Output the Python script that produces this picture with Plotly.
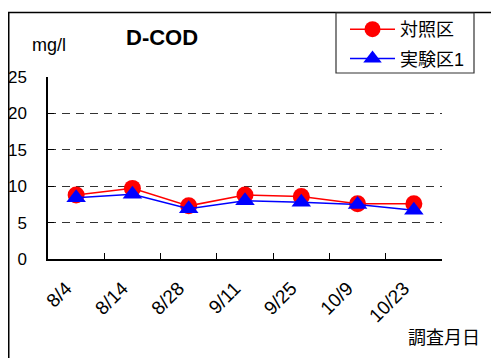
import plotly.graph_objects as go

dates = ["8/4", "8/14", "8/28", "9/11", "9/25", "10/9", "10/23"]
control = [8.8, 9.7, 7.3, 8.8, 8.6, 7.6, 7.6]
exp1 = [8.4, 8.9, 6.9, 8.0, 7.8, 7.5, 6.7]

font = "Liberation Sans, Noto Sans CJK JP"
W, H = 499, 358
OFF = 8  # page body margin
# plot area in screen pixels
X0, X1, Y0, Y1 = 48, 442, 77, 259

def fx(xp):
    return (xp - OFF) / W

def fy(yp):
    return 1 - (yp - OFF) / H

fig = go.Figure()
fig.add_trace(go.Scatter(x=dates, y=control, name="対照区", mode="lines+markers",
                         legendgroup="a",
                         line=dict(color="#ff0000", width=1.5),
                         marker=dict(symbol="circle", size=17, color="#ff0000")))
fig.add_trace(go.Scatter(x=dates, y=exp1, name="実験区1", mode="lines+markers",
                         legendgroup="b",
                         line=dict(color="#0000ff", width=1.5),
                         marker=dict(symbol="triangle-up", size=17, color="#0000ff")))

fig.update_layout(
    width=W, height=H,
    margin=dict(l=0, r=0, t=0, b=0, autoexpand=False),
    paper_bgcolor="white", plot_bgcolor="white",
    font=dict(family=font, color="black", size=16),
    showlegend=True,
    legend=dict(x=fx(345), y=fy(11), xanchor="left", yanchor="top",
                bgcolor="rgba(0,0,0,0)", borderwidth=0,
                font=dict(size=18), itemwidth=45, tracegroupgap=3),
    xaxis=dict(type="category", range=[-0.5, 6.5], tickson="boundaries",
               domain=[fx(X0), fx(X1)], automargin=False,
               ticks="inside", ticklen=6, tickcolor="black",
               showline=True, linecolor="black", linewidth=1.5,
               showgrid=False, tickangle=-45, tickfont=dict(size=19),
               ticklabelstandoff=9, ticklabelshift=-10),
    yaxis=dict(range=[0, 25], dtick=5, domain=[fy(Y1), fy(Y0)], automargin=False,
               ticks="inside", ticklen=6, tickcolor="black",
               showline=True, linecolor="black", linewidth=1.5,
               showgrid=True, gridcolor="#333333", griddash="8px,6px", gridwidth=1,
               zeroline=False, ticklabelstandoff=16, tickfont=dict(size=17)),
)

fig.add_annotation(text="<b>D-COD</b>", x=fx(162), y=fy(37), xref="paper", yref="paper",
                   xanchor="center", yanchor="middle",
                   showarrow=False, font=dict(size=22))
fig.add_annotation(text="mg/l", x=fx(48.5), y=fy(45), xref="paper", yref="paper",
                   xanchor="center", yanchor="middle",
                   showarrow=False, font=dict(size=18))
fig.add_annotation(text="調査月日", x=fx(444), y=fy(338), xref="paper", yref="paper",
                   xanchor="center", yanchor="middle",
                   showarrow=False, font=dict(size=18))

# outer chart border
fig.add_shape(type="rect", xref="paper", yref="paper",
              x0=fx(8.75), y0=fy(420), x1=fx(560), y1=fy(12.5),
              line=dict(color="black", width=1.5), fillcolor="rgba(0,0,0,0)", layer="below")
# legend box
fig.add_shape(type="rect", xref="paper", yref="paper",
              x0=fx(336), y0=fy(73), x1=fx(474), y1=fy(13),
              line=dict(color="#333333", width=1.2), fillcolor="white", layer="above")

fig.write_html("out.html")
